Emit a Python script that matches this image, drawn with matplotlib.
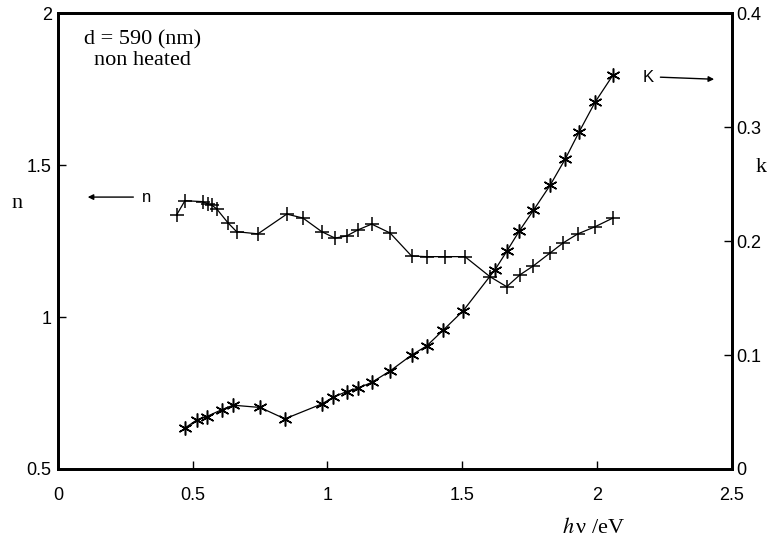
import numpy as np
import matplotlib
matplotlib.use("Agg")
import matplotlib.pyplot as plt

plt.rcParams["mathtext.fontset"] = "stix"

# photon energy (eV) and refractive index n
e_n = [0.440, 0.471, 0.538, 0.557, 0.570, 0.589, 0.631, 0.663, 0.742, 0.849,
       0.909, 0.979, 1.028, 1.071, 1.113, 1.164, 1.232, 1.312, 1.368, 1.436,
       1.510, 1.603, 1.665, 1.714, 1.763, 1.826, 1.874, 1.929, 1.992, 2.059]
n_vals = [1.336, 1.383, 1.380, 1.372, 1.369, 1.356, 1.310, 1.281, 1.274, 1.339,
          1.326, 1.281, 1.260, 1.267, 1.287, 1.306, 1.277, 1.201, 1.199, 1.199,
          1.199, 1.133, 1.100, 1.139, 1.168, 1.211, 1.244, 1.274, 1.297, 1.326]

# photon energy (eV) and extinction coefficient k
e_k = [0.471, 0.515, 0.552, 0.607, 0.650, 0.750, 0.842, 0.978, 1.022, 1.071,
       1.114, 1.164, 1.232, 1.312, 1.368, 1.430, 1.504, 1.622, 1.665, 1.712,
       1.764, 1.826, 1.882, 1.934, 1.993, 2.060]
k_vals = [0.036, 0.043, 0.046, 0.052, 0.056, 0.054, 0.044, 0.057, 0.063, 0.068,
          0.071, 0.076, 0.086, 0.100, 0.108, 0.122, 0.139, 0.175, 0.191, 0.209,
          0.227, 0.249, 0.272, 0.296, 0.322, 0.346]

x_ticks = [0, 0.5, 1, 1.5, 2, 2.5]
x_ticklabels = ["0", "0.5", "1", "1.5", "2", "2.5"]
n_ticks = [0.5, 1, 1.5, 2]
n_ticklabels = ["0.5", "1", "1.5", "2"]
k_ticks = [0, 0.1, 0.2, 0.3, 0.4]
k_ticklabels = ["0", "0.1", "0.2", "0.3", "0.4"]

sans = ["Liberation Sans", "DejaVu Sans"]
serif = ["Liberation Serif", "DejaVu Serif"]

fig = plt.figure(figsize=(7.7, 5.42), dpi=100)
ax = fig.add_axes([0.0753, 0.1347, 0.875, 0.8408])
ax2 = ax.twinx()

ax.plot(e_n, n_vals, color="black", lw=0.9, marker="+", markersize=10,
        markeredgewidth=1.1)
ax2.plot(e_k, k_vals, color="black", lw=0.9, marker=(6, 2, 0), markersize=10,
         markeredgewidth=1.1)

ax.set_xlim(0, 2.5)
ax.set_ylim(0.5, 2)
ax2.set_ylim(0, 0.4)

ax.set_xticks(x_ticks)
ax.set_xticklabels(x_ticklabels, family=sans, fontsize=13)
ax.set_yticks(n_ticks)
ax.set_yticklabels(n_ticklabels, family=sans, fontsize=13)
ax2.set_yticks(k_ticks)
ax2.set_yticklabels(k_ticklabels, family=sans, fontsize=13)

ax.tick_params(axis="x", direction="in", length=6, width=1, pad=13)
ax.tick_params(axis="y", direction="in", length=6, width=1, pad=4.5)
ax2.tick_params(axis="y", direction="in", length=6, width=1, pad=3.6)
for a in (ax, ax2):
    for s in a.spines.values():
        s.set_linewidth(2)

# axis labels
fig.text(17 / 770, 1 - 204 / 542, "n", family=serif, fontsize=16,
         ha="center", va="center")
fig.text(761 / 770, 1 - 168 / 542, "k", family=serif, fontsize=16,
         ha="center", va="center")
fig.text(594 / 770, 1 - 528 / 542, r"$h\,$" + "\u03bd /eV", family=serif,
         fontsize=16, ha="center", va="center")

ax.text(0.312, 1.879, "d = 590 (nm)\nnon heated", family=serif, fontsize=16,
        ha="center", va="center", linespacing=1.08)

# curve markers with arrows
ax.annotate("", xy=(0.10, 1.395), xytext=(0.29, 1.395),
            arrowprops=dict(arrowstyle="-|>", color="black", lw=1,
                            mutation_scale=8))
ax.text(0.329, 1.395, "n", family=sans, fontsize=12, ha="center",
        va="center")
ax2.annotate("", xy=(2.445, 0.342), xytext=(2.225, 0.344),
             arrowprops=dict(arrowstyle="-|>", color="black", lw=1,
                             mutation_scale=8))
ax2.text(2.19, 0.344, "K", family=sans, fontsize=12, ha="center",
         va="center")

fig.savefig("out.png", dpi=100)
